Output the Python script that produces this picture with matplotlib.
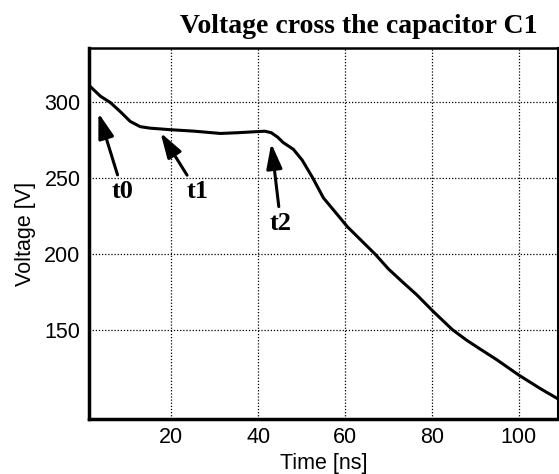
import matplotlib
matplotlib.use("Agg")
import matplotlib.pyplot as plt

# Kurve
time_ns = [1, 1.2, 3.7, 5.9, 8.2, 10.5, 12.8, 15.1, 19.7, 25.3, 31.3, 35.3, 41.5, 43, 44.5,
           45.7, 48.1, 50.1, 52.5, 55, 58.2, 60.5, 63.5, 67, 70, 73.4, 76.5, 80.3, 84.7,
           88, 91.2, 95, 100, 105, 109.2]
voltage = [313, 310.8, 304, 300, 294, 287.5, 284, 283, 282, 281, 279.5, 280, 281, 280, 277,
           273.6, 269, 262, 250.4, 237, 226, 218, 209.5, 199.6, 190, 181, 173, 162, 150,
           143, 137, 130, 120, 111, 104]

# Markierungen: (Text, Spitze, Textposition)
labels = ["t0", "t1", "t2"]
tips = [(3.2, 293), (17.5, 280), (43.0, 273)]
texts = [(8.8, 241), (26.0, 241), (45.2, 220)]

xticks = [20, 40, 60, 80, 100]
yticks = [150, 200, 250, 300]

fig = plt.figure(figsize=(5.59, 4.74), dpi=100)
ax = fig.add_axes([0.159, 0.116, 0.839, 0.783])

ax.plot(time_ns, voltage, color="black", lw=2.2, solid_joinstyle="round")

for lab, tip, txt in zip(labels, tips, texts):
    ax.annotate(lab, xy=tip, xytext=txt, ha="center", va="center",
                fontsize=19, fontweight="bold", family="Liberation Serif",
                arrowprops=dict(arrowstyle="-|>,head_length=0.8,head_width=0.25",
                                color="black", lw=2.2, shrinkA=2, shrinkB=0))

ax.set_xlim(1, 109)
ax.set_ylim(91, 336)
ax.set_xticks(xticks)
ax.set_yticks(yticks)
ax.grid(True, color="black", linestyle=(0, (1, 1.5)), lw=0.9)
ax.tick_params(length=0, labelsize=15.5, pad=6)
for lbl in ax.get_xticklabels() + ax.get_yticklabels():
    lbl.set_family("Liberation Sans")

for side in ["left", "bottom"]:
    ax.spines[side].set_linewidth(2.5)
ax.spines["top"].set_linewidth(1.8)
ax.spines["right"].set_linewidth(1.5)

ax.set_xlabel("Time [ns]", fontsize=15.5, family="Liberation Sans", labelpad=3)
ax.set_ylabel("Voltage [V]", fontsize=15.5, family="Liberation Sans", labelpad=6)

fig.text(0.642, 0.944, "Voltage cross the capacitor C1", ha="center", va="center",
         fontsize=20, fontweight="bold", family="Liberation Serif")

fig.savefig("out.png", dpi=100)
